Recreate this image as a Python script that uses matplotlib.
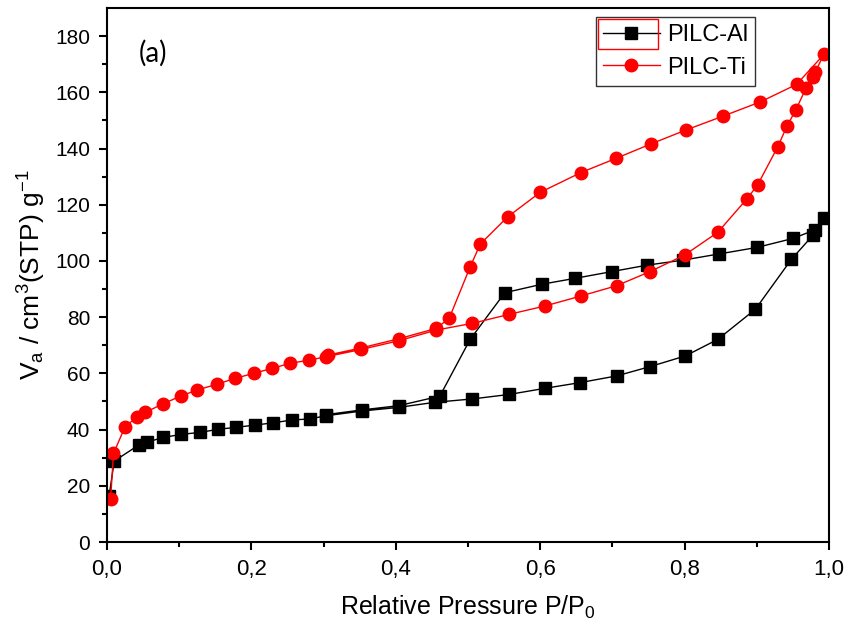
import matplotlib
matplotlib.use("Agg")
import matplotlib.pyplot as plt
from matplotlib.patches import Rectangle
from matplotlib import font_manager

plt.rcParams['font.family'] = ['Liberation Sans', 'DejaVu Sans']
plt.rcParams['mathtext.default'] = 'regular'

names = {f.name for f in font_manager.fontManager.ttflist}
narrow = 'Liberation Sans Narrow' if 'Liberation Sans Narrow' in names else 'Liberation Sans'

# PILC-Al (adsorption then desorption)
al_x = [0.003, 0.010, 0.044, 0.055, 0.078, 0.103, 0.129, 0.154, 0.179, 0.205,
        0.230, 0.256, 0.281, 0.303, 0.353, 0.404, 0.454, 0.506, 0.557, 0.607,
        0.655, 0.706, 0.752, 0.801, 0.846, 0.898, 0.948, 0.978, 0.993,
        0.980, 0.950, 0.900, 0.848, 0.798, 0.748, 0.699, 0.648, 0.602, 0.551,
        0.503, 0.461, 0.404, 0.353, 0.303]
al_y = [16.5, 28.8, 34.5, 35.5, 37.2, 38.3, 39.0, 40.1, 40.8, 41.6,
        42.4, 43.4, 43.8, 44.9, 46.6, 47.9, 49.7, 50.9, 52.5, 54.7,
        56.7, 59.1, 62.4, 66.2, 72.1, 82.8, 100.6, 109.2, 115.4,
        111.0, 108.0, 104.8, 102.5, 100.3, 98.5, 96.2, 93.8, 91.7, 88.7,
        72.1, 51.9, 48.5, 47.0, 45.3]

# PILC-Ti (adsorption then desorption)
ti_x = [0.005, 0.009, 0.025, 0.042, 0.053, 0.077, 0.102, 0.125, 0.152, 0.177,
        0.203, 0.229, 0.254, 0.280, 0.303, 0.352, 0.404, 0.456, 0.506, 0.557,
        0.607, 0.656, 0.706, 0.752, 0.800, 0.846, 0.886, 0.901, 0.929, 0.942,
        0.954, 0.968, 0.978, 0.981, 0.993,
        0.955, 0.905, 0.853, 0.802, 0.753, 0.705, 0.656, 0.600, 0.555, 0.517,
        0.503, 0.474, 0.456, 0.404, 0.351, 0.306]
ti_y = [15.3, 31.5, 41.0, 44.6, 46.1, 49.1, 51.9, 54.1, 56.1, 58.2,
        60.0, 61.8, 63.6, 64.7, 65.9, 68.5, 71.6, 75.4, 77.8, 81.0,
        84.0, 87.5, 91.2, 96.2, 102.1, 110.2, 122.0, 127.0, 140.6, 148.1,
        153.7, 161.4, 165.3, 167.3, 173.5,
        162.8, 156.6, 151.5, 146.6, 141.6, 136.5, 131.4, 124.4, 115.7, 106.0,
        97.9, 79.6, 76.0, 72.3, 69.0, 66.5]

x_ticks = [0.0, 0.2, 0.4, 0.6, 0.8, 1.0]
x_tick_labels = ['0,0', '0,2', '0,4', '0,6', '0,8', '1,0']
y_ticks = [0, 20, 40, 60, 80, 100, 120, 140, 160, 180]

fig = plt.figure(figsize=(8.48, 6.35), dpi=100)
ax = fig.add_axes([107/848, 93/635, 722/848, 534/635])

ax.plot(al_x, al_y, color='black', lw=1.0, marker='s', ms=8.5,
        mfc='black', mec='black', label='PILC-Al')
ax.plot(ti_x, ti_y, color='red', lw=1.0, marker='o', ms=9,
        mfc='red', mec='red', label='PILC-Ti')

ax.set_xlim(0, 1.0)
ax.set_ylim(0, 190)
ax.set_xticks(x_ticks)
ax.set_xticklabels(x_tick_labels, family=[narrow, 'DejaVu Sans'], fontsize=16)
ax.set_xticks([0.1, 0.3, 0.5, 0.7, 0.9], minor=True)
ax.set_yticks(y_ticks)
ax.set_yticks([10, 30, 50, 70, 90, 110, 130, 150, 170], minor=True)
ax.tick_params(axis='y', which='major', labelsize=15)
ax.tick_params(axis='both', which='major', direction='out', length=6, width=1.5,
               pad=6)
ax.tick_params(axis='both', which='minor', direction='out', length=3.5, width=1.5)
for s in ax.spines.values():
    s.set_linewidth(1.5)

ax.set_xlabel('Relative Pressure P/P$_0$', fontsize=18, labelpad=10)
ax.set_ylabel('V$_a$ / cm$^3$(STP) g$^{-1}$', fontsize=19, labelpad=5)

ax.text(0.064, 174, '(a)', fontsize=20, family=['Lato', 'DejaVu Sans'],
        fontstyle='normal', fontweight='normal', ha='center', va='center')

leg = ax.legend(loc='upper right', bbox_to_anchor=(755/848, 1 - 17/635),
                bbox_transform=fig.transFigure, fontsize=17, frameon=True,
                fancybox=False, edgecolor='black', handlelength=2.4,
                borderpad=0.3, labelspacing=0.45, handletextpad=0.3,
                borderaxespad=0)
leg.get_frame().set_linewidth(1.0)

fig.patches.append(Rectangle((598/848, 1 - 49/635), 60/848, 30/635,
                             transform=fig.transFigure, fill=False,
                             edgecolor='red', lw=1.0))

fig.savefig('out.png', dpi=100)
